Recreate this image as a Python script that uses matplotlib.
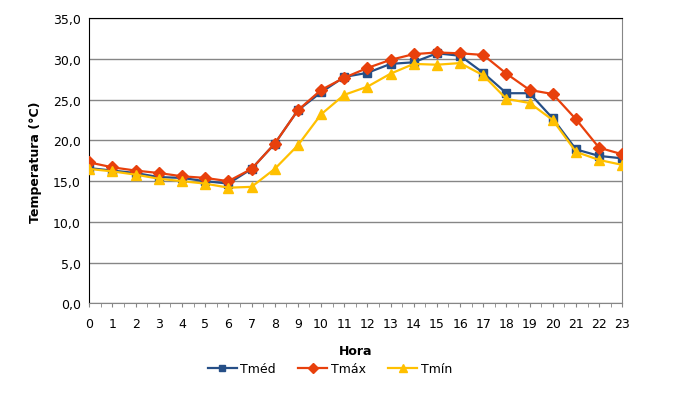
import numpy as np
import matplotlib.pyplot as plt
from matplotlib.ticker import FuncFormatter, MultipleLocator

horas = list(range(24))
tmed = [16.6, 16.3, 16.0, 15.5, 15.4, 15.0, 14.7, 16.5, 19.6, 23.7, 25.9, 27.8,
        28.3, 29.4, 29.6, 30.7, 30.4, 28.3, 25.8, 25.8, 22.7, 18.9, 18.1, 17.8]
tmax = [17.3, 16.7, 16.3, 16.0, 15.6, 15.4, 15.0, 16.5, 19.6, 23.7, 26.2, 27.7,
        28.9, 29.9, 30.6, 30.8, 30.7, 30.5, 28.2, 26.2, 25.7, 22.6, 19.1, 18.3]
tmin = [16.5, 16.2, 15.8, 15.3, 15.0, 14.7, 14.2, 14.3, 16.5, 19.4, 23.2, 25.6,
        26.6, 28.2, 29.4, 29.3, 29.5, 28.0, 25.1, 24.6, 22.5, 18.6, 17.6, 17.0]

plt.rcParams['font.family'] = ['DejaVu Sans']

fig = plt.figure(figsize=(6.91, 4.02), dpi=100)
ax = fig.add_axes([0.1292, 0.243, 0.7714, 0.709])

ax.plot(horas, tmed, color='#264F87', lw=1.6, marker='s', ms=6, label='Tméd', zorder=3)
ax.plot(horas, tmax, color='#E8400C', lw=1.6, marker='D', ms=6, label='Tmáx', zorder=4)
ax.plot(horas, tmin, color='#FFC000', lw=1.6, marker='^', ms=7, label='Tmín', zorder=5)

ax.set_xlim(0, 23)
ax.set_ylim(0, 35)
ax.set_xticks(horas)
ax.xaxis.set_minor_locator(MultipleLocator(0.5))
ax.yaxis.set_major_locator(MultipleLocator(5))
ax.yaxis.set_major_formatter(FuncFormatter(lambda v, p: f"{v:.1f}".replace('.', ',')))
ax.grid(axis='y', color='#868686', lw=1)
ax.set_axisbelow(True)

ax.tick_params(axis='x', which='both', direction='out', length=3, color='#868686',
               labelsize=9, pad=7)
ax.tick_params(axis='y', length=0, labelsize=9, pad=6)

ax.spines['left'].set_color('black')
ax.spines['top'].set_color('black')
ax.spines['right'].set_color('#868686')
ax.spines['bottom'].set_color('#868686')

ax.set_xlabel('Hora', fontsize=9, fontweight='bold', labelpad=10)
ax.set_ylabel('Temperatura (°C)', fontsize=9, fontweight='bold', labelpad=8)

fig.legend(loc='center', bbox_to_anchor=(330 / 691, 1 - 370 / 402), ncol=3,
           frameon=False, fontsize=9, markerscale=0.8, handlelength=2.3,
           columnspacing=1.8, handletextpad=0.3)

plt.savefig('out.png', dpi=100)
